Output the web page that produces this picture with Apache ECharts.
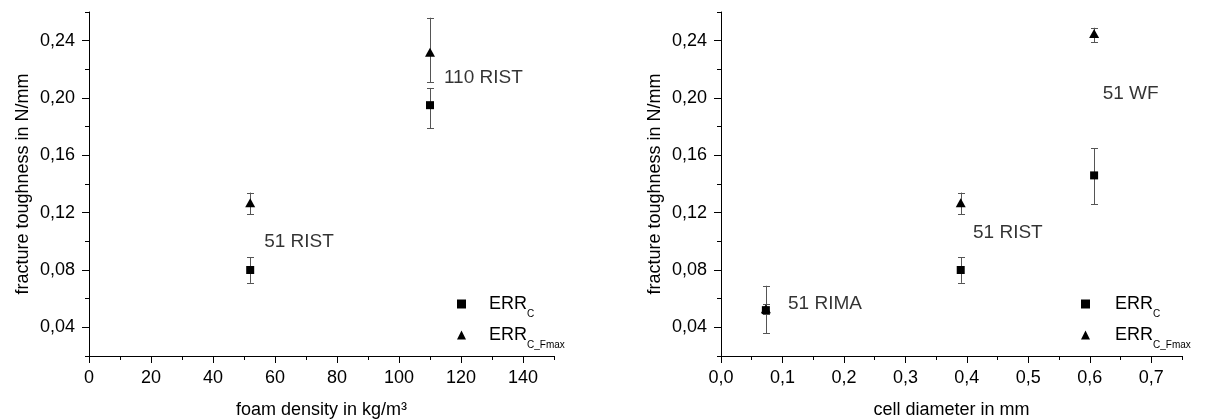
<!DOCTYPE html>
<html>
<head>
<meta charset="utf-8">
<script src="https://cdn.jsdelivr.net/npm/echarts@6/dist/echarts.min.js"></script>
<style>
html, body { margin: 0; padding: 0; background: #fff; }
#chart { width: 1207px; height: 419px; }
</style>
</head>
<body>
<div id="chart"></div>
<script>
/* foam density plot */
var densityX = [52, 110];
var densityErrC = [0.080, 0.195];
var densityErrCLow = [0.071, 0.179];
var densityErrCHigh = [0.089, 0.207];
var densityFmax = [0.127, 0.232];
var densityFmaxLow = [0.119, 0.211];
var densityFmaxHigh = [0.134, 0.256];

/* cell diameter plot */
var cellX = [0.073, 0.39, 0.607];
var cellErrC = [0.052, 0.080, 0.146];
var cellErrCLow = [0.036, 0.071, 0.126];
var cellErrCHigh = [0.069, 0.089, 0.165];
var cellFmax = [0.053, 0.127, 0.245];
var cellFmaxLow = [0.049, 0.119, 0.239];
var cellFmaxHigh = [0.056, 0.134, 0.249];

/* foam labels */
var densityNotes = ['51 RIST', '110 RIST'];
var densityNoteX = [56.5, 114.5];
var densityNoteY = [0.0995, 0.214];
var cellNotes = ['51 RIMA', '51 RIST', '51 WF'];
var cellNoteX = [0.109, 0.41, 0.621];
var cellNoteY = [0.0563, 0.1058, 0.2028];

/* ticks */
var yTicks = [0.04, 0.08, 0.12, 0.16, 0.20, 0.24];
var yMinorTicks = [0.02, 0.04, 0.06, 0.08, 0.10, 0.12, 0.14, 0.16, 0.18, 0.20, 0.22, 0.24, 0.26];
var densityTicks = [0, 20, 40, 60, 80, 100, 120, 140];
var densityMinorTicks = [0, 10, 20, 30, 40, 50, 60, 70, 80, 90, 100, 110, 120, 130, 140, 150];
var cellTicks = [0, 0.1, 0.2, 0.3, 0.4, 0.5, 0.6, 0.7];
var cellMinorTicks = [0, 0.05, 0.1, 0.15, 0.2, 0.25, 0.3, 0.35, 0.4, 0.45, 0.5, 0.55, 0.6, 0.65, 0.7, 0.75];

var FONT = '"Liberation Sans", Arial, sans-serif';

function zip(xs, ys) {
    return xs.map(function (x, i) { return [x, ys[i]]; });
}
function zip3(xs, lo, hi) {
    return xs.map(function (x, i) { return [x, lo[i], hi[i]]; });
}
function comma(digits) {
    return function (v) { return v.toFixed(digits).replace('.', ','); };
}

function renderErrorBar(params, api) {
    var x = api.value(0);
    var lo = api.coord([x, api.value(1)]);
    var hi = api.coord([x, api.value(2)]);
    var px = Math.round(lo[0]) + 0.5;
    var cap = 3.5;
    var style = { stroke: '#555', lineWidth: 1 };
    return {
        type: 'group',
        children: [
            { type: 'line', shape: { x1: px, y1: lo[1], x2: px, y2: hi[1] }, style: style },
            { type: 'line', shape: { x1: px - cap, y1: Math.round(lo[1]) + 0.5, x2: px + cap, y2: Math.round(lo[1]) + 0.5 }, style: style },
            { type: 'line', shape: { x1: px - cap, y1: Math.round(hi[1]) + 0.5, x2: px + cap, y2: Math.round(hi[1]) + 0.5 }, style: style }
        ]
    };
}

var lineStyle = { color: '#000', width: 1 };

function xAxes(gridIndex, max, name, ticks, minor, fmt) {
    return [{
        type: 'value', gridIndex: gridIndex, position: 'bottom', min: 0, max: max,
        name: name, nameLocation: 'middle', nameGap: 45,
        nameTextStyle: { fontSize: 18, color: '#000', fontFamily: FONT },
        axisLine: { show: true, onZero: false, lineStyle: lineStyle },
        axisTick: { show: true, customValues: ticks, length: 7, lineStyle: lineStyle },
        axisLabel: { customValues: ticks, formatter: fmt, fontSize: 18, color: '#000', fontFamily: FONT, margin: 13 },
        splitLine: { show: false }
    }, {
        type: 'value', gridIndex: gridIndex, position: 'bottom', min: 0, max: max,
        axisLine: { show: false, onZero: false },
        axisTick: { show: true, customValues: minor, length: 4, lineStyle: lineStyle },
        axisLabel: { show: false },
        splitLine: { show: false }
    }];
}

function yAxes(gridIndex) {
    return [{
        type: 'value', gridIndex: gridIndex, position: 'left', min: 0.02, max: 0.26,
        name: 'fracture toughness in N/mm', nameLocation: 'middle', nameGap: 57,
        nameTextStyle: { fontSize: 18, color: '#000', fontFamily: FONT },
        axisLine: { show: true, onZero: false, lineStyle: lineStyle },
        axisTick: { show: true, customValues: yTicks, length: 7, lineStyle: lineStyle },
        axisLabel: { customValues: yTicks, formatter: comma(2), fontSize: 18, color: '#000', fontFamily: FONT, margin: 14 },
        splitLine: { show: false }
    }, {
        type: 'value', gridIndex: gridIndex, position: 'left', min: 0.02, max: 0.26,
        axisLine: { show: false, onZero: false },
        axisTick: { show: true, customValues: yMinorTicks, length: 4, lineStyle: lineStyle },
        axisLabel: { show: false },
        splitLine: { show: false }
    }];
}

function plotSeries(xi, yi, xs, errC, errCLow, errCHigh, fmax, fmaxLow, fmaxHigh, notes, noteX, noteY) {
    return [{
        name: 'bars_c', type: 'custom', xAxisIndex: xi, yAxisIndex: yi, z: 1,
        renderItem: renderErrorBar, encode: { x: 0, y: [1, 2] },
        data: zip3(xs, errCLow, errCHigh), silent: true
    }, {
        name: 'bars_f', type: 'custom', xAxisIndex: xi, yAxisIndex: yi, z: 1,
        renderItem: renderErrorBar, encode: { x: 0, y: [1, 2] },
        data: zip3(xs, fmaxLow, fmaxHigh), silent: true
    }, {
        name: 'ERR_C', type: 'scatter', xAxisIndex: xi, yAxisIndex: yi, z: 3,
        symbol: 'rect', symbolSize: 8, itemStyle: { color: '#000', opacity: 1 },
        data: zip(xs, errC)
    }, {
        name: 'ERR_C_Fmax', type: 'scatter', xAxisIndex: xi, yAxisIndex: yi, z: 3,
        symbol: 'triangle', symbolSize: [10, 9], itemStyle: { color: '#000', opacity: 1 },
        data: zip(xs, fmax)
    }, {
        name: 'notes', type: 'scatter', xAxisIndex: xi, yAxisIndex: yi, z: 4,
        symbolSize: 0, silent: true,
        label: {
            show: true, position: 'right', distance: 0,
            formatter: function (p) { return notes[p.dataIndex]; },
            fontSize: 19, color: '#000', fontFamily: FONT
        },
        data: zip(noteX, noteY)
    }];
}

function legendText(name) {
    return name === 'ERR_C' ? '{m|ERR}{s|C}' : '{m|ERR}{s|C_Fmax}';
}

function legendAt(left, pad) {
    return {
        left: left, top: 295, orient: 'vertical', padding: 0,
        itemWidth: 9, itemHeight: 9, itemGap: 7, selectedMode: false,
        data: ['ERR_C', 'ERR_C_Fmax'],
        formatter: legendText,
        textStyle: {
            fontSize: 18, color: '#000', fontFamily: FONT,
            rich: {
                m: { fontSize: 18, lineHeight: 30, padding: [0, 0, 0, pad], color: '#000', fontFamily: FONT },
                s: { fontSize: 10, lineHeight: 4, verticalAlign: 'bottom', color: '#000', fontFamily: FONT }
            }
        }
    };
}

var chartDom = document.getElementById('chart');
var myChart = echarts.init(chartDom);

var option = {
    animation: false,
    textStyle: { fontFamily: FONT },
    grid: [
        { left: 89, top: 12, width: 465, height: 344, outerBoundsMode: 'none', containLabel: false },
        { left: 721, top: 12, width: 461, height: 344, outerBoundsMode: 'none', containLabel: false }
    ],
    xAxis: xAxes(0, 150, 'foam density in kg/m³', densityTicks, densityMinorTicks, comma(0))
        .concat(xAxes(1, 0.75, 'cell diameter in mm', cellTicks, cellMinorTicks, comma(1))),
    yAxis: yAxes(0).concat(yAxes(1)),
    legend: [legendAt(457, 18), legendAt(1081, 20)],
    series: plotSeries(0, 0, densityX, densityErrC, densityErrCLow, densityErrCHigh,
            densityFmax, densityFmaxLow, densityFmaxHigh, densityNotes, densityNoteX, densityNoteY)
        .concat(plotSeries(2, 2, cellX, cellErrC, cellErrCLow, cellErrCHigh,
            cellFmax, cellFmaxLow, cellFmaxHigh, cellNotes, cellNoteX, cellNoteY))
};

option && myChart.setOption(option);
new ResizeObserver(() => myChart.resize()).observe(chartDom);
</script>
</body>
</html>
